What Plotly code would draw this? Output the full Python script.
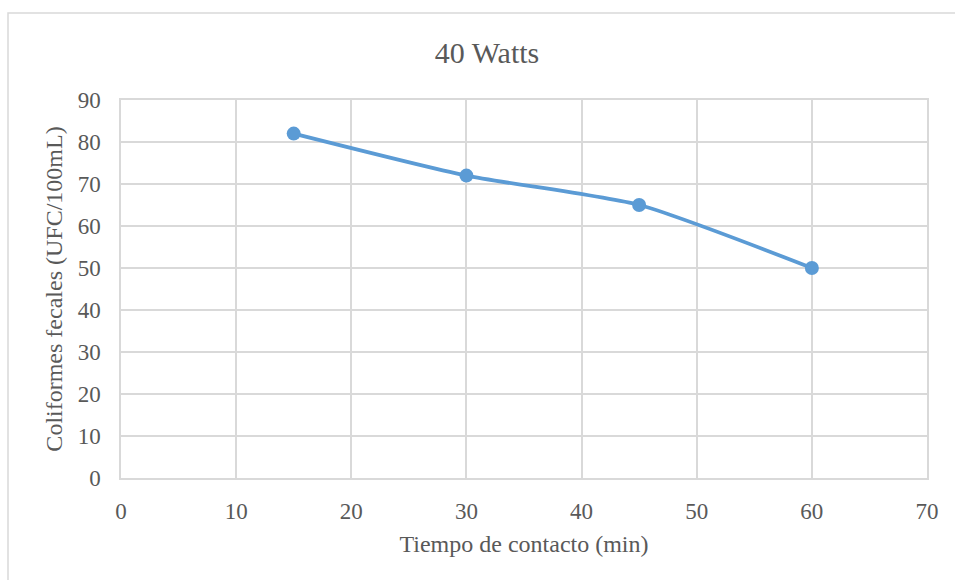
import plotly.graph_objects as go

x_vals = [15, 30, 45, 60]
y_vals = [82, 72, 65, 50]
title_text = "40 Watts"
x_title = "Tiempo de contacto (min)"
y_title = "Coliformes fecales (UFC/100mL)"

W, H = 955, 580
L, R, T, B = 121, 28, 100, 102
pw, ph = W - L - R, H - T - B

font_family = "Liberation Serif"
text_color = "#595959"
grid_color = "#D9D9D9"

fig = go.Figure()
fig.add_trace(go.Scatter(
    x=x_vals, y=y_vals, mode="lines+markers",
    line=dict(color="#5B9BD5", width=3.8, shape="spline", smoothing=0.6),
    marker=dict(color="#5B9BD5", size=14),
    showlegend=False, cliponaxis=False,
))

fig.update_layout(
    width=W, height=H,
    margin=dict(l=L, r=R, t=T, b=B, pad=0),
    paper_bgcolor="white", plot_bgcolor="white",
    font=dict(family=font_family, color=text_color, size=23),
    title=dict(text=title_text, xref="container", x=487 / W, xanchor="center",
               y=1 - 52 / H, yanchor="middle",
               font=dict(size=30, color=text_color, family=font_family)),
    xaxis=dict(range=[0, 70], dtick=10, tick0=0, showgrid=True, gridcolor=grid_color, gridwidth=1.5,
               zeroline=False, showline=True, linecolor=grid_color, linewidth=1.5, mirror=True,
               ticks="", ticklabelstandoff=12,
               tickfont=dict(size=23, family=font_family),
               title=dict(text=x_title, font=dict(size=24, family=font_family), standoff=12)),
    yaxis=dict(range=[0, 90], dtick=10, tick0=0, showgrid=True, gridcolor=grid_color, gridwidth=1.5,
               zeroline=False, showline=True, linecolor=grid_color, linewidth=1.5, mirror=True,
               ticks="", ticklabelstandoff=14,
               tickfont=dict(size=23, family=font_family),
               title=dict(text=y_title, font=dict(size=24, family=font_family), standoff=8)),
)

# outer chart frame (cropped in the reference)
x0 = (8 - L) / pw
y1 = 1 + (T - 13) / ph
fig.add_shape(type="rect", xref="paper", yref="paper",
              x0=x0, x1=(W + 20 - L) / pw, y0=-(B + 20) / ph, y1=y1,
              line=dict(color="#D9D9D9", width=1.5), fillcolor="rgba(0,0,0,0)", layer="below")

fig.write_html("out.html")
